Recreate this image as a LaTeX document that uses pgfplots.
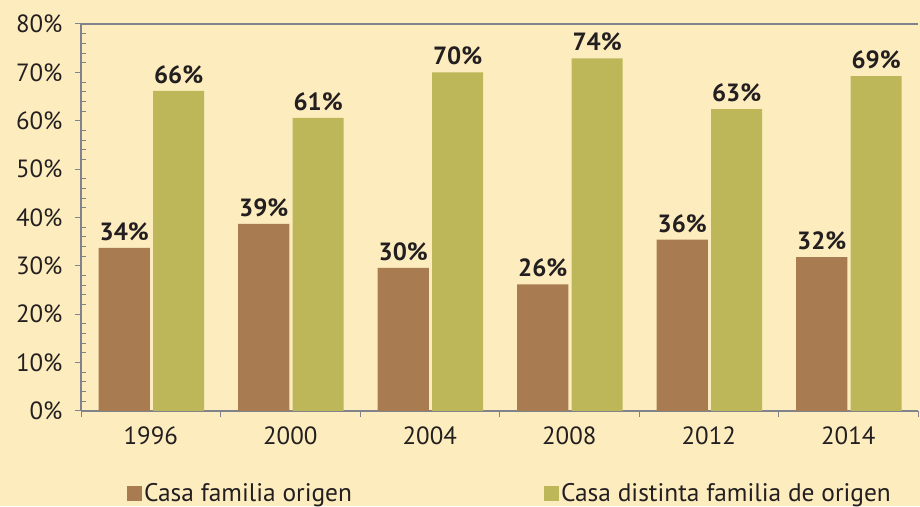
\documentclass[border=0pt]{standalone}
\usepackage{pgfplots}
\pgfplotsset{compat=1.18}
\usepackage{fontspec}
\setmainfont{PT Sans}
\definecolor{bg}{RGB}{253,236,190}
\definecolor{brn}{RGB}{168,123,81}
\definecolor{olv}{RGB}{189,183,90}
\definecolor{axg}{RGB}{128,131,140}
\definecolor{txt}{RGB}{35,31,32}
\begin{document}
\begin{tikzpicture}[x=1bp,y=1bp]
\fill[bg] (0,0) rectangle (920,506);
\begin{axis}[
  at={(81bp,95bp)}, anchor=south west,
  scale only axis, width=837bp, height=387bp,
  xmin=-0.5, xmax=5.5, ymin=0, ymax=80,
  axis lines=left,
  axis line style={-, draw=axg, line width=1.2pt},
  every outer x axis line/.append style={-},
  every outer y axis line/.append style={-},
  tick align=outside,
  tick style={draw=axg, line width=1pt},
  major tick length=6bp,
  minor tick length=5bp,
  minor y tick num=4,
  minor y tick style={xshift=5bp},
  ytick={0,10,...,80},
  yticklabel={\pgfmathprintnumber{\tick}\%},
  xtick={-0.5,0.5,...,5.5},
  x tick label as interval,
  xticklabels={1996,2000,2004,2008,2012,2014},
  /pgf/number format/assume math mode=true,
  tick label style={font=\fontsize{25}{30}\selectfont, text=txt},
  yticklabel style={xshift=-9bp},
  xticklabel style={yshift=-6bp},
  ybar, bar width=0.366,
  point meta=explicit,
  nodes near coords={\pgfmathprintnumber{\pgfplotspointmeta}\%},
  every node near coord/.append style={font=\bfseries\fontsize{25}{29}\selectfont, text=txt, inner sep=2bp, yshift=5bp},
  legend style={at={(0.5125,-0.212)}, anchor=center, draw=none, fill=none,
    legend columns=2, font=\fontsize{25.5}{30}\selectfont, text=txt,
    /tikz/every even column/.append style={column sep=190bp}},
  legend image code/.code={\fill[#1] (0bp,-7.5bp) rectangle (15bp,7.5bp);},
]
\addplot[fill=brn, draw=none, bar shift=-0.19] coordinates {
  (0,33.7) [34] (1,38.7) [39] (2,29.6) [30] (3,26.2) [26] (4,35.4) [36] (5,31.8) [32]};
\addplot[fill=olv, draw=none, bar shift=0.2] coordinates {
  (0,66.2) [66] (1,60.6) [61] (2,70.0) [70] (3,72.9) [74] (4,62.4) [63] (5,69.2) [69]};
\legend{Casa familia origen, Casa distinta familia de origen}
\draw[axg, line width=1.2pt] (rel axis cs:0,1) -- (rel axis cs:1,1);
\end{axis}
\end{tikzpicture}
\end{document}
